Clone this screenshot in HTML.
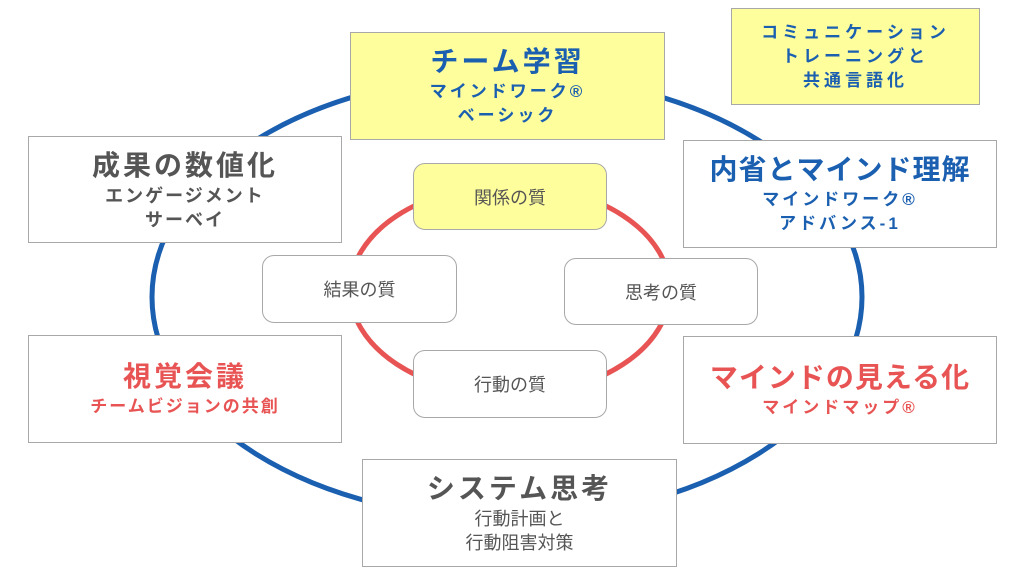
<!DOCTYPE html>
<html><head><meta charset="utf-8"><style>
body{margin:0;width:1024px;height:576px;background:#fff;position:relative;overflow:hidden;font-family:"Liberation Sans","Noto Sans CJK JP",sans-serif;font-weight:bold}
.b{position:absolute;box-sizing:border-box;border:1.5px solid #a8a8a8;background:#fff;display:flex;flex-direction:column;align-items:center;justify-content:center;text-align:center}
.y{background:#fffe9c}
.t{font-size:28px;letter-spacing:3px;line-height:36px}
.s{font-size:17px;letter-spacing:3px;line-height:24px}
.bl{color:#1a5fb0}.g{color:#555}.r{color:#e85454}
.q{border-radius:12px;font-size:18px;color:#555;font-weight:normal}
</style></head><body>
<svg width="1024" height="576" style="position:absolute;left:0;top:0">
<ellipse cx="507" cy="297" rx="355" ry="222" fill="none" stroke="#1a5fb0" stroke-width="5"/>
<ellipse cx="510" cy="290" rx="160" ry="105" fill="none" stroke="#e85454" stroke-width="5"/>
</svg>
<div class="b y bl" style="left:350px;top:32px;width:315px;height:108px"><div class="t">チーム学習</div><div class="s">マインドワーク®<br>ベーシック</div></div>
<div class="b y bl" style="left:731px;top:8px;width:249px;height:97px"><div class="s" style="letter-spacing:4px">コミュニケーション<br>トレーニングと<br>共通言語化</div></div>
<div class="b g" style="left:28px;top:136px;width:314px;height:107px"><div class="t">成果の数値化</div><div class="s" style="font-size:18px;letter-spacing:2px">エンゲージメント<br>サーベイ</div></div>
<div class="b bl" style="left:683px;top:140px;width:314px;height:108px"><div class="t" style="letter-spacing:1px">内省とマインド理解</div><div class="s">マインドワーク®<br>アドバンス-1</div></div>
<div class="b r" style="left:28px;top:335px;width:314px;height:108px"><div class="t">視覚会議</div><div class="s" style="letter-spacing:2px">チームビジョンの共創</div></div>
<div class="b r" style="left:683px;top:336px;width:314px;height:108px"><div class="t" style="letter-spacing:1px">マインドの見える化</div><div class="s">マインドマップ®</div></div>
<div class="b g" style="left:362px;top:459px;width:315px;height:108px"><div class="t">システム思考</div><div class="s" style="letter-spacing:0;font-size:18px;font-weight:normal">行動計画と<br>行動阻害対策</div></div>
<div class="b q y" style="left:413px;top:163px;width:194px;height:67px">関係の質</div>
<div class="b q" style="left:262px;top:255px;width:195px;height:68px">結果の質</div>
<div class="b q" style="left:564px;top:258px;width:194px;height:67px">思考の質</div>
<div class="b q" style="left:413px;top:350px;width:194px;height:68px">行動の質</div>
</body></html>
